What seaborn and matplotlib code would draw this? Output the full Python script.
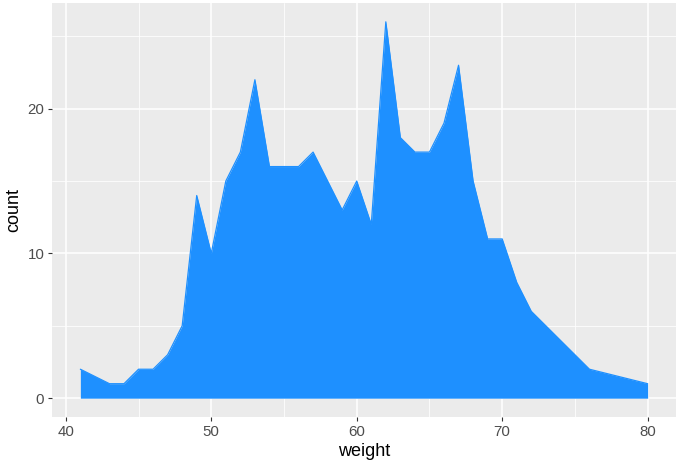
import matplotlib
matplotlib.use("Agg")
import matplotlib.pyplot as plt
import seaborn as sns
import pandas as pd
from matplotlib.ticker import MultipleLocator

weight = [41, 43, 44, 45, 46, 47, 48, 49, 50, 51, 52, 53, 54, 55, 56, 57, 58, 59, 60,
          61, 62, 63, 64, 65, 66, 67, 68, 69, 70, 71, 72, 76, 80]
count = [2, 1, 1, 2, 2, 3, 5, 14, 10, 15, 17, 22, 16, 16, 16, 17, 15, 13, 15,
         12, 26, 18, 17, 17, 19, 23, 15, 11, 11, 8, 6, 2, 1]
x_ticks = [40, 50, 60, 70, 80]
y_ticks = [0, 10, 20]

df = pd.DataFrame({"weight": weight, "count": count})

sns.set_theme(style="darkgrid", rc={
    "axes.facecolor": "#EBEBEB",
    "grid.color": "white",
    "axes.edgecolor": "#EBEBEB",
})
plt.rcParams["font.family"] = ["Liberation Sans", "DejaVu Sans"]

fig = plt.figure(figsize=(6.83, 4.73), dpi=100)
ax = fig.add_axes([52 / 683, 1 - 417 / 473, (676 - 52) / 683, (417 - 3) / 473])

ax.fill_between(df["weight"], 0, df["count"], color="#1E90FF", linewidth=0)
sns.lineplot(data=df, x="weight", y="count", ax=ax, color="#1E90FF", linewidth=0.9)

ax.set_xlim(39.05, 81.95)
ax.set_ylim(-1.3, 27.3)
ax.set_xticks(x_ticks)
ax.set_yticks(y_ticks)
ax.xaxis.set_minor_locator(MultipleLocator(5))
ax.yaxis.set_minor_locator(MultipleLocator(5))
ax.grid(which="major", color="white", linewidth=1.1)
ax.grid(which="minor", color="white", linewidth=0.55)
ax.set_axisbelow(True)
for s in ax.spines.values():
    s.set_visible(False)

ax.tick_params(which="major", length=3, width=0.8, color="#333333",
               labelsize=10.8, labelcolor="#4D4D4D", pad=2.5, bottom=True, left=True)
ax.tick_params(which="minor", length=0)
ax.set_xlabel("weight", fontsize=13, color="black", labelpad=3)
ax.set_ylabel("count", fontsize=13, color="black", labelpad=4)

fig.savefig("out.png", dpi=100)
